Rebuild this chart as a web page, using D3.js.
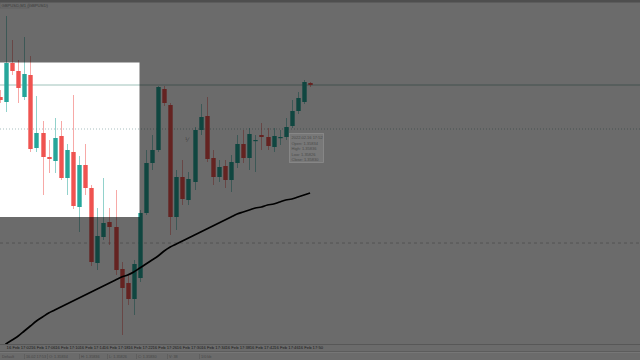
<!DOCTYPE html>
<html><head><meta charset="utf-8">
<script src="https://cdn.jsdelivr.net/npm/d3@7"></script>
<style>html,body{margin:0;padding:0;background:#6b6b6b;overflow:hidden}svg{display:block}</style>
</head><body>
<svg id="c" width="640" height="360"></svg>
<script>
// ---- data (GBPUSD, M1) ----
const opens  = [1.35806,1.35796,1.35874,1.35858,1.35806,1.35850,1.35704,1.35734,1.35686,1.35678,1.35728,1.35644,1.35696,1.35586,1.35670,1.35624,1.35474,1.35526,1.35556,1.35546,1.35462,1.35434,1.35402,1.35444,1.35574,1.35674,1.35700,1.35822,1.35790,1.35566,1.35646,1.35600,1.35636,1.35740,1.35768,1.35684,1.35646,1.35668,1.35640,1.35674,1.35712,1.35684,1.35720,1.35730,1.35726,1.35706,1.35726,1.35726,1.35748,1.35778,1.35796,1.35834];
const highs  = [1.35820,1.35968,1.35920,1.35880,1.35926,1.35888,1.35808,1.35758,1.35720,1.35764,1.35758,1.35712,1.35810,1.35688,1.35712,1.35630,1.35584,1.35644,1.35584,1.35620,1.35476,1.35450,1.35480,1.35580,1.35700,1.35730,1.35828,1.35828,1.35794,1.35660,1.35680,1.35656,1.35746,1.35792,1.35806,1.35700,1.35680,1.35680,1.35690,1.35730,1.35740,1.35744,1.35730,1.35754,1.35744,1.35744,1.35740,1.35764,1.35800,1.35816,1.35840,1.35836];
const lows   = [1.35794,1.35776,1.35850,1.35794,1.35800,1.35696,1.35696,1.35610,1.35654,1.35654,1.35640,1.35610,1.35582,1.35536,1.35610,1.35468,1.35460,1.35520,1.35510,1.35450,1.35330,1.35390,1.35370,1.35436,1.35570,1.35660,1.35696,1.35788,1.35530,1.35540,1.35590,1.35590,1.35620,1.35730,1.35676,1.35630,1.35636,1.35624,1.35616,1.35664,1.35674,1.35660,1.35656,1.35700,1.35700,1.35696,1.35710,1.35720,1.35744,1.35772,1.35792,1.35826];
const closes = [1.35800,1.35874,1.35858,1.35824,1.35852,1.35702,1.35734,1.35686,1.35682,1.35724,1.35644,1.35700,1.35588,1.35670,1.35624,1.35476,1.35528,1.35554,1.35546,1.35460,1.35424,1.35402,1.35472,1.35574,1.35674,1.35700,1.35826,1.35794,1.35566,1.35646,1.35602,1.35642,1.35740,1.35766,1.35682,1.35646,1.35666,1.35640,1.35676,1.35712,1.35684,1.35732,1.35720,1.35726,1.35708,1.35728,1.35726,1.35746,1.35778,1.35804,1.35836,1.35830];
const maValues = [1.35300,1.35312,1.35320,1.35328,1.35338,1.35348,1.35358,1.35366,1.35374,1.35380,1.35386,1.35392,1.35398,1.35404,1.35410,1.35416,1.35422,1.35428,1.35434,1.35440,1.35446,1.35450,1.35456,1.35464,1.35472,1.35480,1.35488,1.35498,1.35506,1.35512,1.35518,1.35524,1.35530,1.35536,1.35542,1.35548,1.35554,1.35560,1.35566,1.35572,1.35576,1.35580,1.35584,1.35586,1.35590,1.35592,1.35596,1.35600,1.35602,1.35606,1.35610,1.35614];
const tickIndex  = [1,5,9,13,17,21,25,29,33,37,41,45,49];
const timeLabels = ["16 Feb 17:02","16 Feb 17:06","16 Feb 17:10","16 Feb 17:14","16 Feb 17:18","16 Feb 17:22","16 Feb 17:26","16 Feb 17:30","16 Feb 17:34","16 Feb 17:38","16 Feb 17:42","16 Feb 17:46","16 Feb 17:50"];
const bidLine = 1.35830, dottedLevel = 1.35742, dashedLevel = 1.35514;
const title = "GBPUSD,M1 (GBPUSD)";
const tipLines = ["2022.02.16 17:52","Open:  1.35834","High:  1.35836","Low:   1.35826","Close: 1.35830"];
const statusItems = ["Default","16.02 17:53","O: 1.35834","H: 1.35836","L: 1.35826","C: 1.35830","V: 38","1/0 kb"];

// ---- scales ----
const svg = d3.select("#c");
const W = 640, H = 360, plotBottom = 344;
const x = d3.scaleLinear().domain([0, 105]).range([0, 638.4]);
const y = d3.scaleLinear().domain([1.36000, 1.35280]).range([0, 360]);
const idx = d3.range(opens.length);

svg.append("rect").attr("width", W).attr("height", H).attr("fill", "#ffffff");
svg.append("defs").append("clipPath").attr("id", "plot")
  .append("rect").attr("x", 0).attr("y", 3).attr("width", W).attr("height", plotBottom - 3);
const g = svg.append("g").attr("clip-path", "url(#plot)");

// level lines
g.append("line").attr("x1", 0).attr("x2", W).attr("y1", y(bidLine)).attr("y2", y(bidLine))
  .attr("stroke", "#9fc2ba").attr("stroke-width", 1);
g.append("line").attr("x1", 0).attr("x2", W).attr("y1", y(dottedLevel)).attr("y2", y(dottedLevel))
  .attr("stroke", "#a9bfc0").attr("stroke-width", 1).attr("stroke-dasharray", "1,2");
g.append("line").attr("x1", 0).attr("x2", W).attr("y1", y(dashedLevel)).attr("y2", y(dashedLevel))
  .attr("stroke", "#c4c4c4").attr("stroke-width", 1).attr("stroke-dasharray", "3,3");

// candles
const up = "#26a69a", dn = "#ef5350";
const col = i => closes[i] >= opens[i] ? up : dn;
g.selectAll("line.wick").data(idx).join("line").attr("class", "wick")
  .attr("x1", i => Math.round(x(i)) + 0.5).attr("x2", i => Math.round(x(i)) + 0.5)
  .attr("y1", i => y(highs[i])).attr("y2", i => y(lows[i]))
  .attr("stroke", col).attr("stroke-width", 1).attr("stroke-opacity", 0.5);
g.selectAll("rect.body").data(idx).join("rect").attr("class", "body")
  .attr("x", i => Math.round(x(i)) - 1.7).attr("width", 4.4)
  .attr("y", i => y(Math.max(opens[i], closes[i])))
  .attr("height", i => Math.max(1.2, Math.abs(y(opens[i]) - y(closes[i]))))
  .attr("fill", col);

// moving average
g.append("path").datum(idx)
  .attr("d", d3.line().x(i => x(i)).y(i => y(maValues[i])).curve(d3.curveMonotoneX))
  .attr("fill", "none").attr("stroke", "#000").attr("stroke-width", 1.7);

// axis (time)
const ax = svg.append("g").attr("transform", `translate(0,${plotBottom})`)
  .call(d3.axisBottom(x).tickValues(tickIndex).tickSize(0).tickPadding(0)
    .tickFormat((d, k) => timeLabels[k]));
ax.select(".domain").attr("stroke", "#555").attr("stroke-width", 1);
ax.selectAll("text").attr("text-anchor", "start").attr("dy", "4.6px")
  .attr("font-family", "Liberation Sans, Arial, sans-serif").attr("font-size", "4.2px").attr("fill", "#444");

// dim overlay with highlighted region
svg.append("path")
  .attr("d", `M0,0H${W}V${H}H0Z M0,62.5H139.5V217H0Z`)
  .attr("fill-rule", "evenodd").attr("fill", "rgba(0,0,0,0.58)");

// top bar + title
svg.append("rect").attr("x", 0).attr("y", 0).attr("width", W).attr("height", 2.5).attr("fill", "#4e4e4e");
svg.append("rect").attr("x", 0).attr("y", 2.5).attr("width", 29).attr("height", 5.5)
  .attr("fill", "none").attr("stroke", "#5a5a5a").attr("stroke-width", 0.6);
svg.append("text").attr("x", 1.5).attr("y", 6.6).text(title)
  .attr("font-family", "Liberation Sans, Arial, sans-serif").attr("font-size", "4.2px").attr("fill", "#3a3a3a");

// axis band lines
svg.append("line").attr("x1", 0).attr("x2", W).attr("y1", 344.5).attr("y2", 344.5).attr("stroke", "#575757");
svg.append("line").attr("x1", 0).attr("x2", W).attr("y1", 351.5).attr("y2", 351.5).attr("stroke", "#5c5c5c");
svg.append("line").attr("x1", 0).attr("x2", W).attr("y1", 352.5).attr("y2", 352.5).attr("stroke", "#767676");

// status bar
const sx = [2, 26, 49, 81, 109, 138, 169, 201];
const sb = svg.append("g");
sb.selectAll("line").data(sx.slice(1)).join("line")
  .attr("x1", d => d - 1.5).attr("x2", d => d - 1.5).attr("y1", 354).attr("y2", 359)
  .attr("stroke", "#585858").attr("stroke-width", 0.6);
sb.selectAll("text").data(statusItems).join("text")
  .attr("x", (d, k) => sx[k]).attr("y", 358).text(d => d)
  .attr("font-family", "Liberation Sans, Arial, sans-serif").attr("font-size", "3.8px").attr("fill", "#474747");

// tooltip
const tip = svg.append("g").attr("transform", "translate(289.5,133.5)");
tip.append("rect").attr("width", 34).attr("height", 29).attr("fill", "#787878").attr("stroke", "#8c8c8c").attr("stroke-width", 0.8);
tip.selectAll("text").data(tipLines).join("text")
  .attr("x", 2).attr("y", (d, k) => 5.5 + k * 5.6).text(d => d)
  .attr("font-family", "Liberation Sans, Arial, sans-serif").attr("font-size", "4px").attr("fill", "#4a4a4a");

// small marker
svg.append("text").attr("x", 185).attr("y", 142).text("⅟")
  .attr("font-family", "DejaVu Sans").attr("font-size", "6px").attr("fill", "#3f3f3f");
</script>
</body></html>
